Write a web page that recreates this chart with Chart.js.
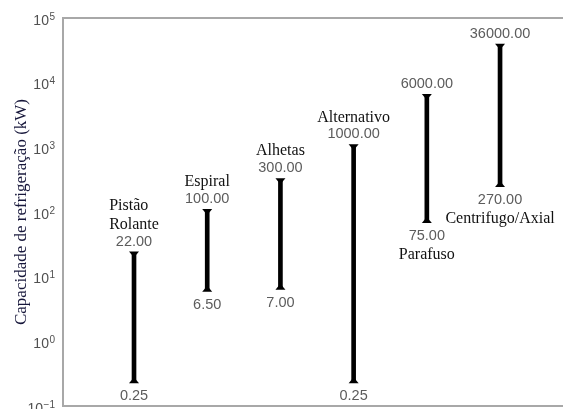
<!DOCTYPE html>
<html>
<head>
<meta charset="utf-8">
<script src="https://cdn.jsdelivr.net/npm/chart.js@4.4.1/dist/chart.umd.min.js"></script>
<style>
  html, body { margin: 0; padding: 0; background: #ffffff; }
  canvas { display: block; }
</style>
</head>
<body>
<canvas id="chart" width="563" height="409"></canvas>
<script>
// Compressor families and their refrigeration capacity ranges (kW)
const compressorTypes = [['Pistão', 'Rolante'], ['Espiral'], ['Alhetas'], ['Alternativo'], ['Parafuso'], ['Centrifugo/Axial']];
const minCapacityKW = [0.25, 6.5, 7, 0.25, 75, 270];
const maxCapacityKW = [22, 100, 300, 1000, 6000, 36000];
const nameBelowRange = [false, false, false, false, true, true];
const yTickExponents = [-1, 0, 1, 2, 3, 4, 5];
const yAxisTitle = 'Capacidade de refrigeração (kW)';

const AXIS_GRAY = '#a8a8a8';
const X_MIN = -0.97, X_MAX = 5.86;

// Triangle caps, value labels and compressor names around each range bar
const rangeDecor = {
  id: 'rangeDecor',
  afterDatasetsDraw(chart) {
    const ctx = chart.ctx;
    const meta = chart.getDatasetMeta(0);
    ctx.save();
    meta.data.forEach((bar, i) => {
      const x = bar.x;
      const yTop = Math.min(bar.y, bar.base);
      const yBot = Math.max(bar.y, bar.base);

      ctx.fillStyle = '#000000';
      ctx.beginPath();
      ctx.moveTo(x - 5, yTop - 3);
      ctx.lineTo(x + 5, yTop - 3);
      ctx.lineTo(x, yTop + 3);
      ctx.closePath();
      ctx.fill();
      ctx.beginPath();
      ctx.moveTo(x - 5, yBot + 3);
      ctx.lineTo(x + 5, yBot + 3);
      ctx.lineTo(x, yBot - 3);
      ctx.closePath();
      ctx.fill();

      const topLabelY = yTop - 13;
      const botLabelY = yBot + 16;
      ctx.font = '14.5px "Liberation Sans", Arial, sans-serif';
      ctx.fillStyle = '#5c5c5c';
      ctx.textAlign = 'center';
      ctx.textBaseline = 'middle';
      ctx.fillText(maxCapacityKW[i].toFixed(2), x, topLabelY);
      ctx.fillText(minCapacityKW[i].toFixed(2), x, botLabelY);

      ctx.font = '16px "Liberation Serif", "Times New Roman", serif';
      ctx.fillStyle = '#111111';
      ctx.textAlign = 'left';
      const lines = compressorTypes[i];
      const blockWidth = Math.max(...lines.map(l => ctx.measureText(l).width));
      const left = x - blockWidth / 2;
      if (nameBelowRange[i]) {
        lines.forEach((l, k) => ctx.fillText(l, left, botLabelY + 19 * (k + 1)));
      } else {
        lines.forEach((l, k) => ctx.fillText(l, left, topLabelY - 17 - 19 * (lines.length - 1 - k)));
      }
    });
    ctx.restore();
  },
  // Power-of-ten tick labels with raised exponents
  afterDraw(chart) {
    const ctx = chart.ctx;
    const yScale = chart.scales.y;
    ctx.save();
    ctx.fillStyle = '#505050';
    ctx.textAlign = 'right';
    ctx.textBaseline = 'alphabetic';
    const rightEdge = 55;
    yTickExponents.forEach(e => {
      const py = yScale.getPixelForValue(Math.pow(10, e));
      const expText = e < 0 ? '\u2212' + Math.abs(e) : String(e);
      ctx.font = '10px "Liberation Sans", Arial, sans-serif';
      const expWidth = ctx.measureText(expText).width;
      ctx.fillText(expText, rightEdge, py + 1.5);
      ctx.font = '14px "Liberation Sans", Arial, sans-serif';
      ctx.fillText('10', rightEdge - expWidth - 0.5, py + 6.5);
    });
    ctx.restore();
  }
};

const rangeData = minCapacityKW.map((lo, i) => ({ x: i, y: [lo, maxCapacityKW[i]] }));

new Chart(document.getElementById('chart'), {
  type: 'bar',
  data: {
    datasets: [{
      data: rangeData,
      backgroundColor: '#000000',
      borderWidth: 0,
      barThickness: 4
    }]
  },
  options: {
    responsive: false,
    animation: false,
    devicePixelRatio: 1,
    layout: { padding: 0 },
    plugins: {
      legend: { display: false },
      tooltip: { enabled: false }
    },
    scales: {
      x: {
        type: 'linear',
        position: 'bottom',
        offset: false,
        min: X_MIN,
        max: X_MAX,
        ticks: { display: false },
        grid: { display: false },
        border: { display: true, color: AXIS_GRAY, width: 2 },
        afterFit(s) { s.height = 3; }
      },
      xTop: {
        type: 'linear',
        position: 'top',
        offset: false,
        min: X_MIN,
        max: X_MAX,
        ticks: { display: false },
        grid: { display: false },
        border: { display: true, color: AXIS_GRAY, width: 2 },
        afterFit(s) { s.height = 18; }
      },
      y: {
        type: 'logarithmic',
        position: 'left',
        min: 0.1,
        max: 100000,
        ticks: { display: false },
        grid: { display: false },
        border: { display: true, color: AXIS_GRAY, width: 2 },
        title: {
          display: true,
          text: yAxisTitle,
          color: '#16163a',
          font: { family: '"Liberation Serif", "Times New Roman", serif', size: 17 },
          padding: { top: 11, bottom: 0 }
        },
        afterFit(s) { s.width = 63; }
      }
    }
  },
  plugins: [rangeDecor]
});
</script>
</body>
</html>
